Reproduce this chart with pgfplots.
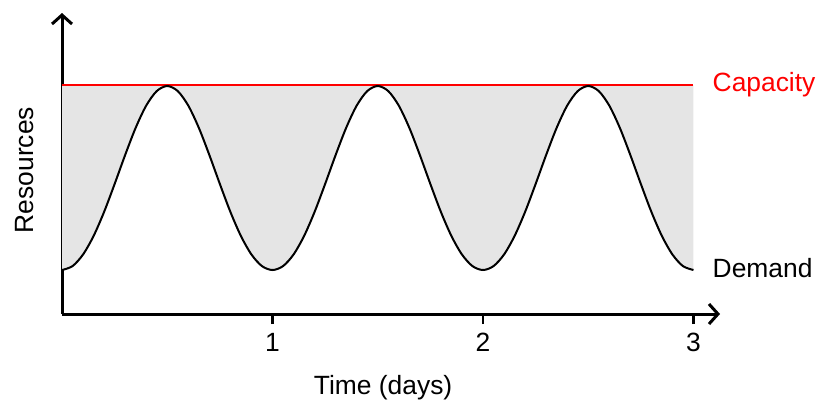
\documentclass[border=0pt]{standalone}
\usepackage{fontspec}
\setmainfont{Liberation Sans}
\usepackage{pgfplots}
\pgfplotsset{compat=1.18}
\usepgfplotslibrary{fillbetween}
\usetikzlibrary{arrows.meta}

\begin{document}
\fontsize{13.2}{16}\selectfont
\begin{tikzpicture}
\begin{axis}[
  at={(0,0)}, anchor=origin,
  scale only axis, width=329pt, height=150.5pt,
  xmin=0, xmax=3.126, ymin=0, ymax=30.1,
  axis lines=left,
  axis line style={line width=1.5pt, -{Straight Barb[length=4.5pt,width=10pt]}},
  xtick={1,2,3}, ytick=\empty,
  tick align=outside, major tick length=5pt,
  tick style={line width=1.3pt, black},
  /pgf/number format/assume math mode=true,
  xlabel={Time (days)}, ylabel={Resources},
  xlabel style={at={(rel axis cs:0.488,0)}, anchor=center, yshift=-37pt},
  ylabel style={at={(rel axis cs:0,0.478)}, anchor=center, yshift=18.5pt},
  clip=false,
]
\addplot[name path=cap, red, line width=1pt] coordinates {(0,22.9) (3,22.9)};
\addplot[name path=dem, black, line width=1pt, smooth] coordinates {
(0.00,4.40) (0.05,4.79) (0.10,5.95) (0.15,7.80) (0.20,10.21) (0.25,13.00) (0.30,15.90) (0.35,18.62) (0.40,20.84) (0.45,22.29)
(0.50,22.80) (0.55,22.29) (0.60,20.84) (0.65,18.62) (0.70,15.90) (0.75,13.00) (0.80,10.21) (0.85,7.80) (0.90,5.95) (0.95,4.79)
(1.00,4.40) (1.05,4.79) (1.10,5.95) (1.15,7.80) (1.20,10.21) (1.25,13.00) (1.30,15.90) (1.35,18.62) (1.40,20.84) (1.45,22.29)
(1.50,22.80) (1.55,22.29) (1.60,20.84) (1.65,18.62) (1.70,15.90) (1.75,13.00) (1.80,10.21) (1.85,7.80) (1.90,5.95) (1.95,4.79)
(2.00,4.40) (2.05,4.79) (2.10,5.95) (2.15,7.80) (2.20,10.21) (2.25,13.00) (2.30,15.90) (2.35,18.62) (2.40,20.84) (2.45,22.29)
(2.50,22.80) (2.55,22.29) (2.60,20.84) (2.65,18.62) (2.70,15.90) (2.75,13.00) (2.80,10.21) (2.85,7.80) (2.90,5.95) (2.95,4.79)
(3.00,4.40)};
\addplot[gray!20] fill between[of=cap and dem];
\node[anchor=west, red, xshift=5pt] at (axis cs:3,22.9) {Capacity};
\node[anchor=west, xshift=5pt] at (axis cs:3,4.6) {Demand};
\end{axis}
\pgfresetboundingbox
\path[use as bounding box] (-31pt,-50pt) rectangle (380pt,157pt);
\end{tikzpicture}
\end{document}
